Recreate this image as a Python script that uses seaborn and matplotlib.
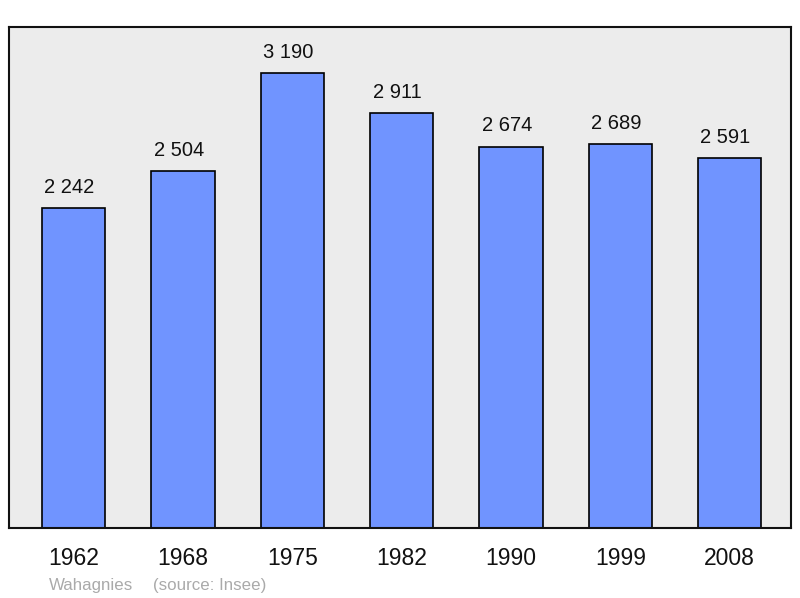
import matplotlib
matplotlib.use("Agg")
import matplotlib.pyplot as plt
import seaborn as sns
import pandas as pd

years = ["1962", "1968", "1975", "1982", "1990", "1999", "2008"]
population = [2242, 2504, 3190, 2911, 2674, 2689, 2591]
labels = [f"{v:,}".replace(",", " ") for v in population]

df = pd.DataFrame({"year": years, "pop": population})

sns.set_style("white")
plt.rcParams["font.family"] = ["Liberation Sans", "DejaVu Sans"]

fig = plt.figure(figsize=(8, 5.98), dpi=100)
ax = fig.add_axes([0.01125, 0.117, 0.9775, 0.838])
ax.set_facecolor("#ececec")

sns.barplot(data=df, x="year", y="pop", order=years, color="#7094ff",
            saturation=1, width=0.58, edgecolor="black", linewidth=1.2, ax=ax)

# labels sit a little left of the bar centre in the original
for i, (v, lab) in enumerate(zip(population, labels)):
    ax.annotate(lab, (i, v), xytext=(-3, 11), textcoords="offset points",
                ha="center", va="baseline", fontsize=14.5, color="#111111")

ax.set_ylim(0, 3513)
ax.set_xlim(-0.59, 6.56)
ax.set_yticks([])
ax.set_xlabel("")
ax.set_ylabel("")
ax.tick_params(axis="x", length=0, pad=14, labelsize=16.5, labelcolor="#111111")
for s in ax.spines.values():
    s.set_visible(True)
    s.set_color("#111111")
    s.set_linewidth(1.5)

fig.text(49 / 800, 8 / 598, "Wahagnies", color="#aaaaaa",
         fontsize=12.2, va="baseline", ha="left")
fig.text(153 / 800, 8 / 598, "(source: Insee)", color="#aaaaaa",
         fontsize=12.2, va="baseline", ha="left")

fig.savefig("out.png", dpi=100)
